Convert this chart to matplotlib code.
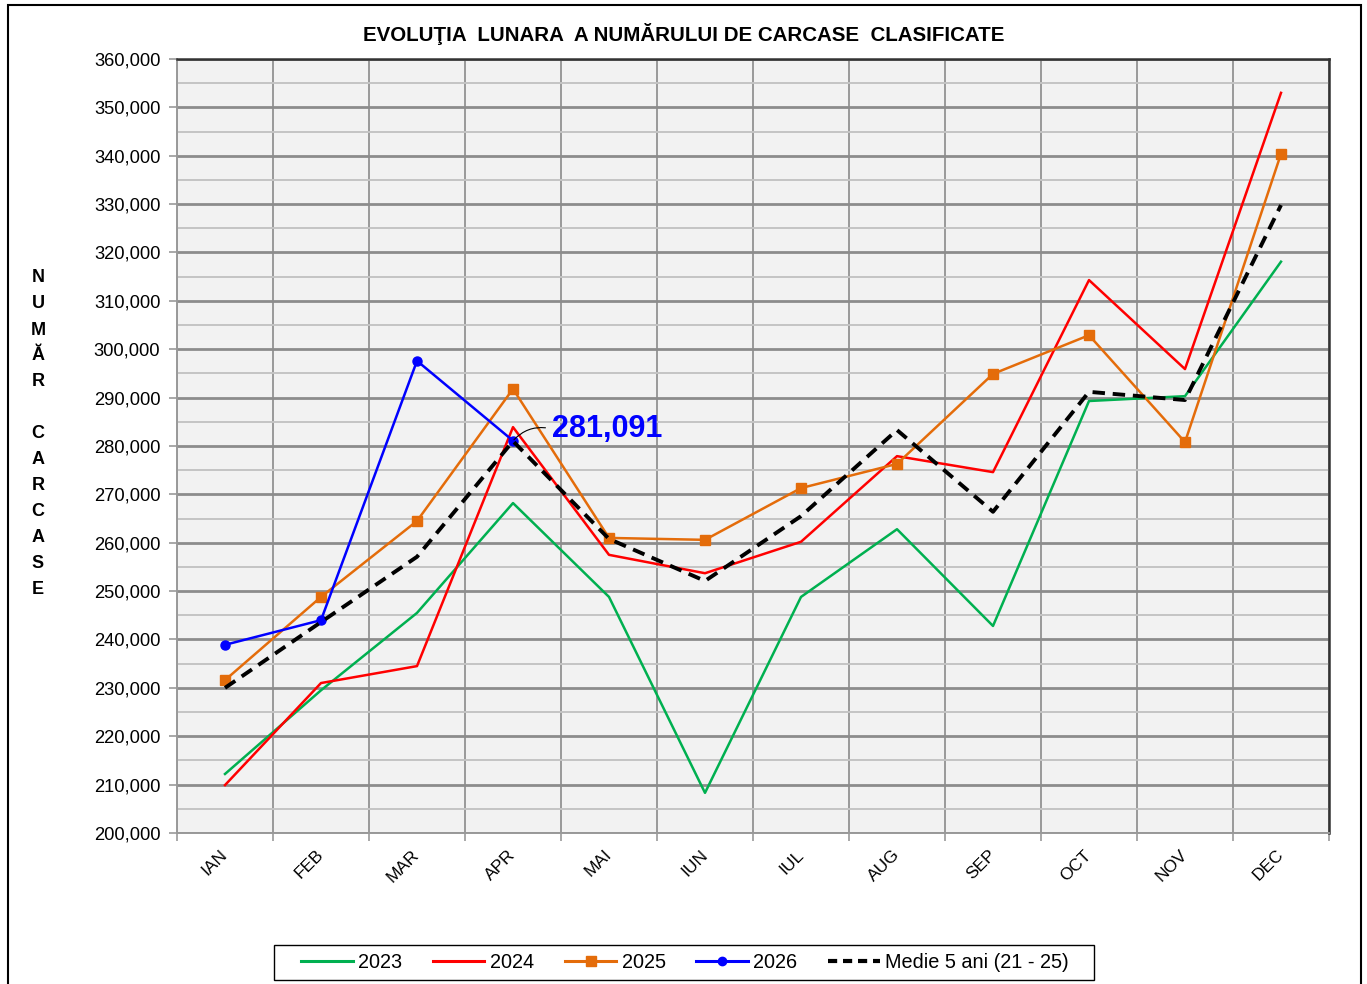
"""
Evolutia lunara a numarului de carcase clasificate
"""

import matplotlib
matplotlib.use("Agg")
import matplotlib.pyplot as plt
from matplotlib.patches import Rectangle
from matplotlib.ticker import MultipleLocator, FuncFormatter
from matplotlib.lines import Line2D

months = ["IAN", "FEB", "MAR", "APR", "MAI", "IUN", "IUL", "AUG", "SEP", "OCT", "NOV", "DEC"]

y2023 = [212200, 229500, 245500, 268200, 248800, 208300, 248800, 262800, 242800, 289300, 290300, 318100]
y2024 = [209900, 231000, 234500, 283900, 257500, 253700, 260200, 277900, 274600, 314300, 295900, 353000]
y2025 = [231600, 248800, 264500, 291800, 261000, 260600, 271300, 276300, 294900, 302900, 280800, 340400]
y2026 = [238900, 244000, 297600, 281091]
medie = [230000, 243600, 257100, 281000, 260800, 252100, 265500, 283300, 266400, 291200, 289500, 329800]

title = "EVOLUŢIA  LUNARA  A NUMĂRULUI DE CARCASE  CLASIFICATE"
ylabel_letters = ["N", "U", "M", "Ă", "R", "", "C", "A", "R", "C", "A", "S", "E"]
last_label = "281,091"

W, H = 1367, 984
FONT = ["Liberation Sans", "DejaVu Sans"]

plt.rcParams['font.family'] = FONT

fig = plt.figure(figsize=(W / 100, H / 100), dpi=100)
ax = fig.add_axes([177 / W, 1 - 833 / H, (1329 - 177) / W, (833 - 59) / H])
ax.set_facecolor("#F2F2F2")

x = list(range(len(months)))

# grid
ax.yaxis.set_major_locator(MultipleLocator(10000))
ax.yaxis.set_minor_locator(MultipleLocator(5000))
ax.grid(which="major", axis="y", color="#8C8C8C", lw=2.0, zorder=0)
ax.grid(which="minor", axis="y", color="#C4C4C4", lw=1.4, zorder=0)
ax.set_xticks(x)
ax.set_xticks([i + 0.5 for i in range(-1, 12)], minor=True)
ax.grid(which="minor", axis="x", color="#999999", lw=1.4, zorder=0)
ax.set_axisbelow(True)

ax.plot(x, y2023, color="#00B050", lw=1.8, zorder=3)
ax.plot(x, y2024, color="#FF0000", lw=1.8, zorder=3)
ax.plot(x, y2025, color="#E46C0A", lw=1.8, marker="s", ms=7, zorder=4)
ax.plot(x[:len(y2026)], y2026, color="#0000FF", lw=1.8, marker="o", ms=6.5, zorder=5)
ax.plot(x, medie, color="black", lw=2.8, ls=(0, (3.2, 2.0)), zorder=6)

ax.annotate(last_label, xy=(3, y2026[3]), xytext=(3.41, 283500),
            fontsize=22, fontweight="bold", color="#0000FF", va="center", ha="left",
            arrowprops=dict(arrowstyle="-", color="black", lw=0.8, relpos=(0, 0.5),
                            connectionstyle="arc3,rad=0.3", shrinkA=3, shrinkB=1),
            zorder=7)

ax.set_xlim(-0.5, 11.5)
ax.set_ylim(200000, 360000)
ax.yaxis.set_major_formatter(FuncFormatter(lambda v, p: "{:,.0f}".format(v)))

ax.set_xticklabels(months, rotation=45, ha="right", va="center", rotation_mode="anchor")
ax.tick_params(axis="x", which="major", length=0, pad=14, labelsize=12.5)
ax.tick_params(axis="x", which="minor", length=6, color="#999999", width=1.2)
ax.tick_params(axis="y", which="major", length=6, color="#999999", width=1.2, labelsize=13.2, pad=6)
ax.tick_params(axis="y", which="minor", length=0)

for side in ["left", "bottom"]:
    ax.spines[side].set_color("#999999")
    ax.spines[side].set_linewidth(1.4)
for side in ["top", "right"]:
    ax.spines[side].set_color("#333333")
    ax.spines[side].set_linewidth(1.8)

fig.text(684 / W, 1 - 34 / H, title, ha="center", va="center", fontsize=14.8, fontweight="bold")

for i, ch in enumerate(ylabel_letters):
    if ch:
        fig.text(38 / W, 1 - (278 + 26 * i) / H, ch, ha="center", va="center",
                 fontsize=13, fontweight="bold")

handles = [
    Line2D([], [], color="#00B050", lw=2.2),
    Line2D([], [], color="#FF0000", lw=2.2),
    Line2D([], [], color="#E46C0A", lw=2.2, marker="s", ms=7),
    Line2D([], [], color="#0000FF", lw=2.2, marker="o", ms=6),
    Line2D([], [], color="black", lw=3, ls=(0, (2.2, 1.4))),
]
labels = ["2023", "2024", "2025", "2026", "Medie 5 ani (21 - 25)"]
leg = fig.legend(handles, labels, loc="center", bbox_to_anchor=(685 / W, 1 - 962 / H),
                 ncol=5, frameon=False, handlelength=2.6, handletextpad=0.27,
                 columnspacing=1.55, borderpad=0.3, prop={"size": 14.3})

# legend box drawn separately (wider padding than matplotlib frame)
fig.patches.append(Rectangle((274 / W, 1 - 980 / H), (1094 - 274) / W, (980 - 945) / H,
                             transform=fig.transFigure, fill=False, edgecolor="black",
                             lw=1.0, clip_on=False))

# outer frame of the chart
fig.patches.append(Rectangle((8 / W, -0.02), (1361 - 8) / W, (984 - 5) / H + 0.02,
                             transform=fig.transFigure, fill=False, edgecolor="black",
                             lw=1.5, clip_on=False))

fig.savefig("out.png", dpi=100)
